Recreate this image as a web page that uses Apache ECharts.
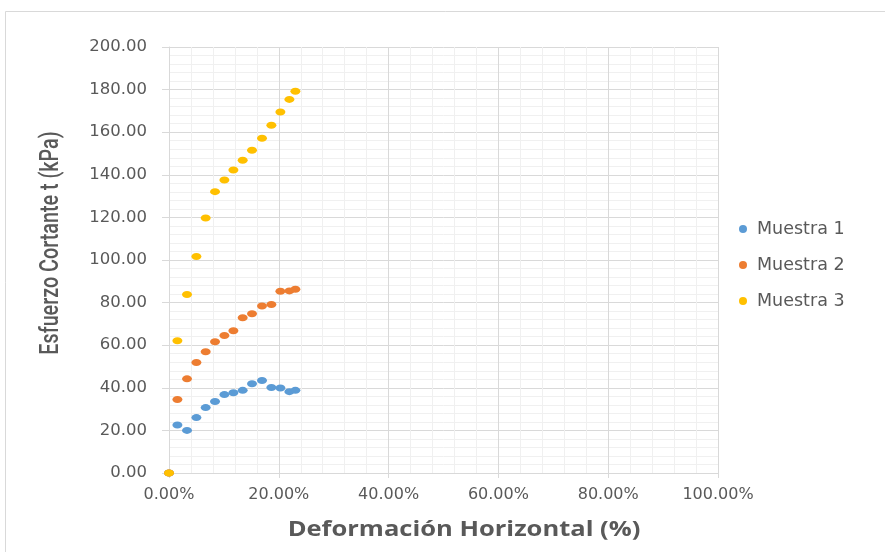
<!DOCTYPE html>
<html>
<head>
<meta charset="utf-8">
<script src="https://cdn.jsdelivr.net/npm/echarts@6/dist/echarts.min.js"></script>
<style>html,body{margin:0;padding:0;background:#fff}#c{width:885px;height:552px}</style>
</head>
<body>
<div id="c"></div>
<script>
// Horizontal deformation (%), shared by all samples
const deformacion = [0, 1.53, 3.28, 4.99, 6.68, 8.38, 10.09, 11.73, 13.42, 15.12, 16.94, 18.65, 20.29, 21.93, 23.02];
// Shear stress (kPa)
const muestra1 = [0, 22.5, 20.0, 26.0, 30.7, 33.6, 36.8, 37.7, 38.8, 41.9, 43.4, 40.1, 39.9, 38.2, 38.8];
const muestra2 = [0, 34.5, 44.2, 51.9, 56.9, 61.6, 64.6, 66.8, 72.9, 74.8, 78.4, 79.1, 85.3, 85.5, 86.3];
const muestra3 = [0, 62.1, 83.8, 101.6, 119.7, 132.1, 137.6, 142.3, 146.8, 151.5, 157.2, 163.3, 169.5, 175.4, 179.2];
const seriesNames = ['Muestra 1', 'Muestra 2', 'Muestra 3'];
const seriesColors = ['#5B9BD5', '#ED7D31', '#FFC000'];
const xTitle = 'Deformación Horizontal (%)';
const yTitle = 'Esfuerzo Cortante t (kPa)';

const ellipse = 'path://M0 5A5 5 0 1 1 10 5A5 5 0 1 1 0 5Z';
const pair = (ys) => deformacion.map((x, i) => [x, ys[i]]);
const allY = [muestra1, muestra2, muestra3];

const chart = echarts.init(document.getElementById('c'), null, {renderer: 'canvas'});
chart.setOption({
  animation: false,
  backgroundColor: '#ffffff',
  grid: {left: 169, right: 167, top: 47, bottom: 79, containLabel: false},
  xAxis: {
    type: 'value', min: 0, max: 100, interval: 20, splitNumber: 5,
    axisLine: {show: true, onZero: false, lineStyle: {color: '#D9D9D9', width: 1}},
    axisTick: {show: true, length: 5, lineStyle: {color: '#D9D9D9'}},
    axisLabel: {margin: 14, color: '#595959', fontSize: 16, fontFamily: 'DejaVu Sans',
      formatter: v => v.toFixed(2) + '%'},
    splitLine: {show: true, lineStyle: {color: '#D9D9D9', width: 1}},
    minorTick: {show: false, splitNumber: 5},
    minorSplitLine: {show: true, lineStyle: {color: '#F0F0F0', width: 1}}
  },
  yAxis: {
    type: 'value', min: 0, max: 200, interval: 20,
    axisLine: {show: true, onZero: false, lineStyle: {color: '#D9D9D9', width: 1}},
    axisTick: {show: true, length: 7, lineStyle: {color: '#D9D9D9'}},
    axisLabel: {margin: 22, color: '#595959', fontSize: 16.5, fontFamily: 'DejaVu Sans',
      formatter: v => v.toFixed(2)},
    splitLine: {show: true, lineStyle: {color: '#D9D9D9', width: 1}},
    minorTick: {show: false, splitNumber: 5},
    minorSplitLine: {show: true, lineStyle: {color: '#F0F0F0', width: 1}}
  },
  legend: {
    orient: 'vertical', left: 734, top: 215, itemGap: 18,
    itemWidth: 8, itemHeight: 8, icon: 'circle',
    textStyle: {color: '#595959', fontSize: 17.5, fontFamily: 'DejaVu Sans', padding: [0, 0, 0, 5]},
    data: seriesNames
  },
  graphic: [
    {type: 'rect', silent: true, z: -10, shape: {x: 5.5, y: 11.5, width: 900, height: 600},
      style: {fill: 'none', stroke: '#D9D9D9', lineWidth: 1}},
    {type: 'text', x: 464, y: 530, scaleX: 1.16, silent: true,
      style: {text: xTitle, fill: '#595959', font: 'bold 22px "Open Sans"', align: 'center', verticalAlign: 'middle'}},
    {type: 'text', x: 51, y: 243, rotation: Math.PI / 2, scaleX: 0.76, silent: true,
      style: {text: yTitle, fill: '#595959', font: '500 26px Roboto', align: 'center', verticalAlign: 'middle'}}
  ],
  series: seriesNames.map((name, i) => ({
    name, type: 'scatter',
    symbol: ellipse, symbolSize: [10, 7],
    itemStyle: {color: seriesColors[i], opacity: 1},
    data: pair(allY[i]),
    z: 2 + i
  }))
});
</script>
</body>
</html>
